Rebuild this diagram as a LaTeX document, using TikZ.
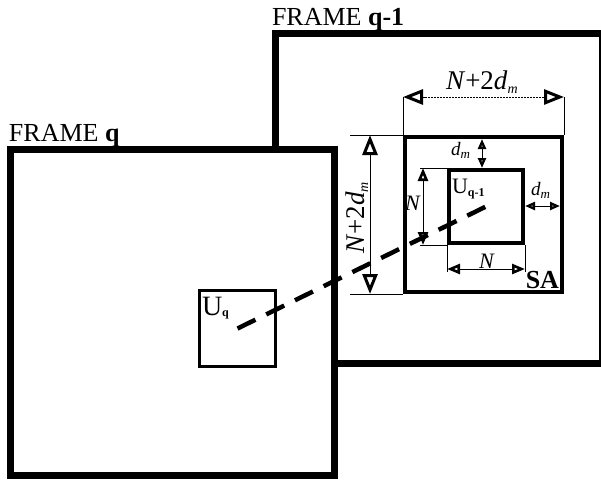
\documentclass[tikz,border=0pt]{standalone}
\usepackage{fontspec}
\setmainfont{Liberation Serif}
\usetikzlibrary{arrows.meta,calc}
\newcommand\fbig{\fontsize{26}{30}\selectfont}
\newcommand\fU{\fontsize{28}{30}\selectfont}
\newcommand\fdim{\fontsize{27}{30}\selectfont}
\newcommand\fsmall{\fontsize{19}{20}\selectfont}
\newcommand\fN{\fontsize{22}{24}\selectfont}
\begin{document}
\begin{tikzpicture}[x=1pt,y=-1pt,
  framebox/.style={draw,line width=7pt,inner sep=0pt,outer sep=3.5pt,fill=white},
  sabox/.style={draw,line width=4pt,inner sep=0pt,outer sep=2pt},
  ubox/.style={draw,line width=3.5pt,inner sep=0pt,outer sep=1.75pt},
  ext/.style={line width=0.8pt},
  bigtip/.tip={Triangle[open,length=20pt,width=15pt,line width=3pt]},
  midtip/.tip={Triangle[open,length=13pt,width=10pt,line width=2.6pt]},
  smalltip/.tip={Triangle[open,length=10pt,width=8pt,line width=2.3pt]},
  dimbig/.style={line width=0.8pt,bigtip-bigtip},
  dimmid/.style={line width=0.8pt,midtip-midtip},
  dimsmall/.style={line width=0.8pt,smalltip-smalltip},
  lbl/.style={inner sep=0pt,outer sep=0pt},
  link/.style={line width=4.5pt,dash pattern=on 20pt off 12pt}
]
\useasboundingbox (0,0) rectangle (601,480);
\clip (0,0) rectangle (601,480);
% frames
\node[framebox,minimum width=327pt,minimum height=330pt] (F1) at (438.5,198) {};
\node[framebox,minimum width=324pt,minimum height=326pt] (F0) at (172,312) {};
\node[lbl,anchor=base west,font=\fbig] (t1) at (272,25) {FRAME \textbf{q-1}};
\node[lbl,anchor=base west,font=\fbig] (t0) at (9,141) {FRAME \textbf{q}};
% boxes
\node[sabox,minimum width=157pt,minimum height=155pt] (SA) at (483.5,214.5) {};
\node[ubox,line width=4pt,outer sep=2pt,minimum width=74pt,minimum height=73pt] (Uq1) at (486,206.5) {};
\node[ubox,line width=3pt,outer sep=1.5pt,minimum width=76pt,minimum height=76pt] (Uq) at (237.5,328.5) {};
\node[lbl,anchor=base west,font=\fU] (lUq) at (202,315) {U\raisebox{-1.5pt}{\fontsize{12}{12}\selectfont\bfseries q}};
\node[lbl,anchor=base west,font=\fN] (lUq1) at (452,193) {U\raisebox{-3pt}{\fontsize{12}{12}\selectfont\bfseries q-1}};
\node[lbl,anchor=base east,font=\fbig\bfseries] (lSA) at (559,288) {SA};
% top N+2dm
\coordinate (topy) at (0,97);
\coordinate (ta) at (SA.north west |- topy);
\coordinate (tb) at (SA.north east |- topy);
\draw[ext] (SA.north west) -- (ta);
\draw[ext] (SA.north east) -- (tb);
\draw[ext,dash pattern=on 2pt off 1pt,shorten <=19pt,shorten >=19pt] (ta) -- (tb);
\draw[ext,-bigtip] ($(ta)!22pt!(tb)$) -- (ta);
\draw[ext,-bigtip] ($(tb)!22pt!(ta)$) -- (tb);
\node[lbl,anchor=base west,font=\fdim] (ltop) at (446,89) {\textit{N}+2\textit{d}\raisebox{-4pt}{\fontsize{14}{14}\selectfont\itshape m}};
% left vertical N+2dm
\coordinate (vx) at (370,0);
\coordinate (vext) at (350,0);
\draw[ext] (SA.north west) -- (SA.north west -| vext);
\draw[ext] (SA.south west) -- (SA.south west -| vext);
\draw[dimbig] (SA.north west -| vx) -- (SA.south west -| vx);
\node[lbl,anchor=base,rotate=90,font=\fdim] (lleft) at (364,218) {\textit{N}+2\textit{d}\raisebox{-4pt}{\fontsize{14}{14}\selectfont\itshape m}};
% dm vertical
\coordinate (dmx) at (482,0);
\draw[dimsmall] ($(SA.north -| dmx)+(0,4)$) -- (Uq1.north -| dmx);
\node[lbl,anchor=base west,font=\fsmall] (ldm1) at (451,155) {\textit{d}\raisebox{-3pt}{\fontsize{13}{13}\selectfont\itshape m}};
% dm horizontal
\coordinate (dmy) at (0,206);
\draw[dimsmall] (Uq1.east |- dmy) -- ($(SA.east |- dmy)+(-4,0)$);
\node[lbl,anchor=base west,font=\fsmall] (ldm2) at (531,195) {\textit{d}\raisebox{-3pt}{\fontsize{13}{13}\selectfont\itshape m}};
% N vertical
\coordinate (nvx) at (423,0);
\coordinate (nvext) at (420,0);
\draw[ext] (Uq1.north west) -- (Uq1.north west -| nvext);
\draw[ext] (Uq1.south west) -- (Uq1.south west -| nvext);
\draw[dimmid] (Uq1.north west -| nvx) -- (Uq1.south west -| nvx);
\node[lbl,anchor=base west,font=\fN] (lNv) at (405,210) {\textit{N}};
% N horizontal
\coordinate (nhy) at (0,269);
\coordinate (nhext) at (0,272);
\draw[ext] (Uq1.south west) -- (Uq1.south west |- nhext);
\draw[ext] (Uq1.south east) -- (Uq1.south east |- nhext);
\draw[dimmid] (Uq1.south west |- nhy) -- (Uq1.south east |- nhy);
\node[lbl,anchor=base west,font=\fN] (lNh) at (479,268) {\textit{N}};
% dashed link
\draw[link] (Uq.center) -- (Uq1.center);
\end{tikzpicture}
\end{document}
